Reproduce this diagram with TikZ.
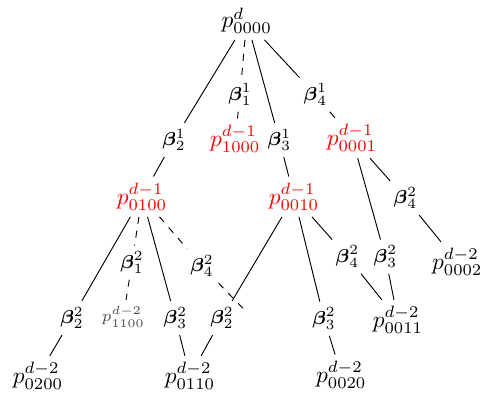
\documentclass[tikz,border=0pt]{standalone}
\usepackage{amsmath,amssymb}
\usepackage{tikz}
\usetikzlibrary{positioning}

\tikzset{
  pn/.style={inner sep=2.5pt},
  pred/.style={pn,text=red},
  psmall/.style={pn,font=\scriptsize,text=black!70},
  bl/.style={font=\footnotesize,inner sep=2.5pt}
}

\begin{document}
\begin{tikzpicture}
 \useasboundingbox (0,0) rectangle (7.245,5.97);
 % levels of the tree
 \node[pn]   (p0000) at (3.70,5.66) {$p^{d}_{0000}$};
 \node[pred] (p1000) at (3.53,3.89) {$p^{d-1}_{1000}$};
 \node[pred] (p0100) at (2.13,3.02) {$p^{d-1}_{0100}$};
 \node[pred] (p0010) at (4.41,3.02) {$p^{d-1}_{0010}$};
 \node[pred] (p0001) at (5.28,3.90) {$p^{d-1}_{0001}$};
 \node[pn]   (p0200) at (0.57,0.33) {$p^{d-2}_{0200}$};
 \node[psmall] (p1100) at (1.85,1.22) {$p^{d-2}_{1100}$};
 \node[pn]   (p0110) at (2.85,0.33) {$p^{d-2}_{0110}$};
 \node[pn]   (p0020) at (5.12,0.35) {$p^{d-2}_{0020}$};
 \node[pn]   (p0011) at (5.97,1.17) {$p^{d-2}_{0011}$};
 \node[pn]   (p0002) at (6.86,2.04) {$p^{d-2}_{0002}$};
 \coordinate (p0101) at (3.65,1.34);
 % branch labels
 \node[bl] (b11) at (3.60,4.55) {$\boldsymbol{\beta}^1_1$};
 \node[bl] (b12) at (2.61,3.87) {$\boldsymbol{\beta}^1_2$};
 \node[bl] (b13) at (4.19,3.87) {$\boldsymbol{\beta}^1_3$};
 \node[bl] (b14) at (4.73,4.55) {$\boldsymbol{\beta}^1_4$};
 \node[bl] (b21a) at (1.98,2.03) {$\boldsymbol{\beta}^2_1$};
 \node[bl] (b22a) at (1.08,1.20) {$\boldsymbol{\beta}^2_2$};
 \node[bl] (b23a) at (2.63,1.20) {$\boldsymbol{\beta}^2_3$};
 \node[bl] (b24a) at (3.03,1.98) {$\boldsymbol{\beta}^2_4$};
 \node[bl] (b22b) at (3.33,1.20) {$\boldsymbol{\beta}^2_2$};
 \node[bl] (b23b) at (4.86,1.19) {$\boldsymbol{\beta}^2_3$};
 \node[bl] (b24b) at (5.21,2.12) {$\boldsymbol{\beta}^2_4$};
 \node[bl] (b23c) at (5.78,2.12) {$\boldsymbol{\beta}^2_3$};
 \node[bl] (b24c) at (6.08,3.00) {$\boldsymbol{\beta}^2_4$};
 % branches
 \draw[dashed] (p0000) -- (b11) -- (p1000);
 \draw (p0000) -- (b12) -- (p0100);
 \draw (p0000) -- (b13) -- (p0010);
 \draw (p0000) -- (b14) -- (p0001);
 \draw[dashed] (p0100) -- (b21a) -- (p1100);
 \draw (p0100) -- (b22a) -- (p0200);
 \draw (p0100) -- (b23a) -- (p0110);
 \draw[dashed] (p0100) -- (b24a) -- (p0101);
 \draw (p0010) -- (b22b) -- (p0110);
 \draw (p0010) -- (b23b) -- (p0020);
 \draw (p0010) -- (b24b) -- (p0011);
 \draw (p0001) -- (b23c) -- (p0011);
 \draw (p0001) -- (b24c) -- (p0002);
\end{tikzpicture}
\end{document}
